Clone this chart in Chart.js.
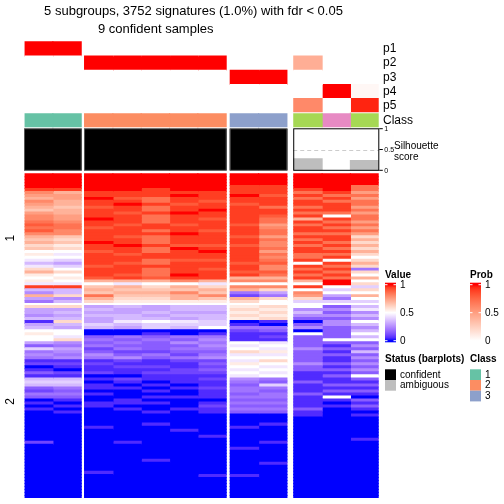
<!DOCTYPE html>
<html><head><meta charset="utf-8">
<script src="https://cdn.jsdelivr.net/npm/chart.js@4.4.1/dist/chart.umd.min.js"></script>
<style>html,body{margin:0;padding:0;background:#fff;}canvas{display:block;background:#fff;}</style>
</head><body>
<canvas id="c" width="504" height="504"></canvas>
<script>
// ---------------- DATA ----------------
const titleLine1 = "5 subgroups, 3752 signatures (1.0%) with fdr < 0.05";
const titleLine2 = "9 confident samples";
const annotationLabels = ["p1", "p2", "p3", "p4", "p5", "Class"];
const rowClusterLabels = ["1", "2"];
// column (sample) groups: 0,1,2 = confident classes 1,2,3 ; 3 = ambiguous samples
const sampleGroup = [0, 0, 1, 1, 1, 1, 1, 2, 2, 3, 3, 3];
const probP1 = [1, 1, 0, 0, 0, 0, 0, 0, 0, 0, 0, 0];
const probP2 = [0, 0, 1, 1, 1, 1, 1, 0, 0, 0.42, 0, 0];
const probP3 = [0, 0, 0, 0, 0, 0, 0, 1, 1, 0, 0, 0];
const probP4 = [0, 0, 0, 0, 0, 0, 0, 0, 0, 0, 1, 0.04];
const probP5 = [0, 0, 0, 0, 0, 0, 0, 0, 0, 0.6, 0, 0.96];
const sampleClassColor = ["#66C2A5", "#66C2A5", "#FC8D62", "#FC8D62", "#FC8D62", "#FC8D62", "#FC8D62",
  "#8DA0CB", "#8DA0CB", "#A6D854", "#E78AC3", "#A6D854"];
const silhouette = [1, 1, 1, 1, 1, 1, 1, 1, 1, 0.29, 0, 0.25];
const sampleStatus = ["confident", "confident", "confident", "confident", "confident", "confident",
  "confident", "confident", "confident", "ambiguous", "ambiguous", "ambiguous"];
// heatmap values: one string per column, one char per row; char index in VALUE_SCALE / 20 = value (0..1)
const VALUE_SCALE = "0123456789abcdefghijk";
// row cluster 1 (44 rows)
const cluster1Values = [
  "kkkkkj" + "gfegfedfgg" + "hihig" + "edecd" + "aba" + "979" + "ceb" + "ab9" + "j" + "75e64",
  "kkkkkj" + "effeedeeff" + "ghhgg" + "dcdbc" + "a9a" + "868" + "aca" + "ba9" + "j" + "77c57",
  "kkkkkk" + "jjkjjijjjkjjijjjjkjjijjjjijjji" + "e" + "a" + "d" + "edhec",
  "kkkkkk" + "jjijkjjijjjijjjijjkjjijjijjjij" + "e" + "9" + "e" + "dedcb",
  "kkkkkj" + "jjhhjhhjhhhjjhjhhhjhhjjhhjhhhi" + "e" + "a" + "c" + "dedcb",
  "kkkkkk" + "jkjjijjkjjjijjkjjjikjjjijjjjkj" + "g" + "a" + "e" + "dgeeb",
  "kkkkkk" + "jjjijjkjjijjjijjjjijkjjijjijjj" + "e" + "9" + "c" + "edgdb",
  "kkkk" + "jjjkjjijjjjj" + "jijjjijjijjjj" + "jijjij" + "egage42ec",
  "kkkk" + "jjjijjjhjjih" + "hfghhfhgghfhg" + "higgih" + "egagc64ca",
  "kkkkk" + "jhjhjjhjhjejhjjhjhjhjjhhj" + "a" + "jhjhje" + "ajagfc8",
  "kkkkkk" + "jhjhjjjh" + "a" + "jhjhjhjjhjhjhj" + "a" + "jhjhjh" + "kk" + "a8a648",
  "kkkk" + "hhfhfhhfhfhhfhfhf" + "cecececacec" + "4" + "caeac8caea8"
];
// row cluster 2 (64 rows)
const cluster2Values = [
  "c6657167" + "abaa" + "638454" + "120131" + "787" + "3243" + "01010" + "0000000002000000000000000000",
  "c6767c76" + "aa9c" + "546545" + "121021" + "787" + "4343" + "10101" + "0000000000000000000000000000",
  "67676687" + "00" + "34342354" + "1211201" + "01101001100" + "0000100000000000000100000000",
  "76677976" + "00" + "43434235" + "2121102" + "10100011010" + "0000000001000000000000000000",
  "66767a88" + "01" + "34333243" + "1121211" + "01010101001" + "0001000000000001000000000000",
  "77676987" + "00" + "43534324" + "2112211" + "10100100010" + "0000010000000000000000000000",
  "7767788a" + "01" + "45454345" + "2323212" + "11211101211" + "0000000100000000000010000000",
  "bcbcb" + "01" + "42111" + "a9ac9a9ba9a9" + "543443434343" + "0000100000010000000010000000",
  "cbcbc" + "10" + "43121" + "9a9b9aca9a9a" + "438434434343" + "0001000001000000100000000000",
  "a5753035" + "0a33" + "3353333533" + "111311131111311" + "000000000000000000000000000",
  "35353553" + "333a" + "313131131313113131" + "a" + "101000" + "000000000000000000000000000",
  "79575a75" + "7a7a" + "35373535353a3" + "131310313101" + "000000010000000000000000000"
];
const ROWS1 = 44, ROWS2 = 64;
const valueLegendTicks = ["1", "0.5", "0"];
const probLegendTicks = ["1", "0.5", "0"];
const statusLegend = ["confident", "ambiguous"];
const classLegend = ["1", "2", "3"];
const classLegendColors = ["#66C2A5", "#FC8D62", "#8DA0CB"];
const silTicks = [0, 0.5, 1];

// ---------------- COLOURS (LAB interpolation) ----------------
function lin(c) { c /= 255; return c <= 0.04045 ? c / 12.92 : Math.pow((c + 0.055) / 1.055, 2.4); }
function enc(v) { v = v <= 0.0031308 ? 12.92 * v : 1.055 * Math.pow(v, 1 / 2.4) - 0.055; return Math.round(Math.max(0, Math.min(1, v)) * 255); }
function toLab(hex) {
  const r = lin(parseInt(hex.slice(1, 3), 16)), g = lin(parseInt(hex.slice(3, 5), 16)), b = lin(parseInt(hex.slice(5, 7), 16));
  const X = (0.4124564 * r + 0.3575761 * g + 0.1804375 * b) / 0.95047;
  const Y = (0.2126729 * r + 0.7151522 * g + 0.0721750 * b);
  const Z = (0.0193339 * r + 0.1191920 * g + 0.9503041 * b) / 1.08883;
  const f = t => t > 0.008856 ? Math.cbrt(t) : 7.787 * t + 16 / 116;
  return [116 * f(Y) - 16, 500 * (f(X) - f(Y)), 200 * (f(Y) - f(Z))];
}
function fromLab(L, a, b) {
  const fy = (L + 16) / 116, fx = fy + a / 500, fz = fy - b / 200;
  const fi = t => { const t3 = t * t * t; return t3 > 0.008856 ? t3 : (t - 16 / 116) / 7.787; };
  const X = fi(fx) * 0.95047, Y = fi(fy), Z = fi(fz) * 1.08883;
  const r = 3.2404542 * X - 1.5371385 * Y - 0.4985314 * Z;
  const g = -0.9692660 * X + 1.8760108 * Y + 0.0415560 * Z;
  const bb = 0.0556434 * X - 0.2040259 * Y + 1.0572252 * Z;
  return "rgb(" + enc(r) + "," + enc(g) + "," + enc(bb) + ")";
}
function makeRamp(breaks, hexes) {
  const labs = hexes.map(toLab);
  return v => {
    v = Math.max(breaks[0], Math.min(breaks[breaks.length - 1], v));
    let i = 0; while (i < breaks.length - 2 && v > breaks[i + 1]) i++;
    const t = (v - breaks[i]) / (breaks[i + 1] - breaks[i]);
    const A = labs[i], B = labs[i + 1];
    return fromLab(A[0] + (B[0] - A[0]) * t, A[1] + (B[1] - A[1]) * t, A[2] + (B[2] - A[2]) * t);
  };
}
const valueColor = makeRamp([0, 0.5, 1], ["#0000FF", "#FFFFFF", "#FF0000"]);
const probColor = makeRamp([0, 1], ["#FFFFFF", "#FF0000"]);

// ---------------- LAYOUT (scale units) ----------------
const GROUP_GAPS = [0.12, 0.145, 0.244];
const BAR_PCT = 1.04;
const colCenter = []; { let x = 0; for (let c = 0; c < sampleGroup.length; c++) { if (c > 0 && sampleGroup[c] !== sampleGroup[c - 1]) x += GROUP_GAPS[sampleGroup[c - 1]]; colCenter.push(x + 0.5); x += 1; } }
const XMAX = colCenter[colCenter.length - 1] + 0.5;
const groupRanges = [0, 1, 2, 3].map(g => { const cs = colCenter.filter((_, i) => sampleGroup[i] === g); return [cs[0] - 0.5, cs[cs.length - 1] + 0.5]; });
const YMAX = 457;
const P_TOP = 0.3, P_H = 14.2;
const CLASS_TOP = 72.3, CLASS_BOT = 86.3;
const SIL_BOX_TOP = 87.3, SIL_BOX_BOT = 129.8, SIL_BASE = 129.3, SIL_H = 41.6;
const C1_TOP = 132.3, C1_BOT = 262.0, C2_TOP = 264.0, C2_BOT = 457;

const probs = [probP1, probP2, probP3, probP4, probP5];
function decode(str, n) { return str.padEnd(n, str[str.length - 1]).slice(0, n).split("").map(ch => Math.max(0, VALUE_SCALE.indexOf(ch)) / 20); }

const datasets = colCenter.map((cx, c) => {
  const data = [], colors = [];
  probs.forEach((p, k) => { data.push({ x: cx, y: [P_TOP + k * P_H, P_TOP + (k + 1) * P_H + (k < 4 ? 1 : 0)] }); colors.push(probColor(p[c])); });
  data.push({ x: cx, y: [CLASS_TOP, CLASS_BOT] }); colors.push(sampleClassColor[c]);
  if (silhouette[c] > 0) { data.push({ x: cx, y: [SIL_BASE - silhouette[c] * SIL_H, SIL_BASE] }); colors.push(sampleStatus[c] === "confident" ? "#000000" : "#BEBEBE"); }
  const v1 = decode(cluster1Values[c], ROWS1), h1 = (C1_BOT - C1_TOP) / ROWS1;
  v1.forEach((v, r) => { data.push({ x: cx, y: [C1_TOP + r * h1, C1_TOP + (r + 1) * h1 + (r < ROWS1 - 1 ? 1 : 0)] }); colors.push(valueColor(v)); });
  const v2 = decode(cluster2Values[c], ROWS2), h2 = (C2_BOT - C2_TOP) / ROWS2;
  v2.forEach((v, r) => { data.push({ x: cx, y: [C2_TOP + r * h2, C2_TOP + (r + 1) * h2 + (r < ROWS2 - 1 ? 1 : 0)] }); colors.push(valueColor(v)); });
  return { label: "sample " + (c + 1), data, backgroundColor: colors, borderWidth: 0, grouped: false, barPercentage: BAR_PCT, categoryPercentage: 1 };
});

const FONT = '"Liberation Sans", Arial, Helvetica, sans-serif';

const decor = {
  id: "decor",
  afterDatasetsDraw(chart) {
    const ctx = chart.ctx, xs = chart.scales.x, ys = chart.scales.y;
    const ppu = xs.getPixelForValue(1) - xs.getPixelForValue(0);
    const ext = (BAR_PCT - 1) / 2 * ppu;
    ctx.save();
    const by0 = ys.getPixelForValue(SIL_BOX_TOP), by1 = ys.getPixelForValue(SIL_BOX_BOT);
    groupRanges.forEach((gr, g) => {
      const x0 = xs.getPixelForValue(gr[0]) - ext, x1 = xs.getPixelForValue(gr[1]) + ext;
      if (g === 3) {
        const yh = ys.getPixelForValue(SIL_BASE - 0.5 * SIL_H);
        ctx.strokeStyle = "#CCCCCC"; ctx.lineWidth = 1; ctx.setLineDash([4, 3]);
        ctx.beginPath(); ctx.moveTo(x0, Math.round(yh) + 0.5); ctx.lineTo(x1, Math.round(yh) + 0.5); ctx.stroke();
        ctx.setLineDash([]);
        ctx.strokeStyle = "#000"; ctx.fillStyle = "#000"; ctx.font = "7px " + FONT; ctx.textBaseline = "middle"; ctx.textAlign = "left";
        silTicks.forEach(t => {
          const ty = ys.getPixelForValue(SIL_BASE - t * SIL_H);
          ctx.beginPath(); ctx.moveTo(x1, ty); ctx.lineTo(x1 + 3.5, ty); ctx.stroke();
          ctx.fillText(String(t), x1 + 5, ty + 0.5);
        });
      }
      ctx.strokeStyle = g === 3 ? "#000" : "#555"; ctx.lineWidth = 1;
      ctx.strokeRect(x0 + 0.5, by0 + 0.5, x1 - x0 - 1, by1 - by0 - 1);
    });
    ctx.restore();
  },
  afterDraw(chart) {
    const ctx = chart.ctx, xs = chart.scales.x, ys = chart.scales.y;
    ctx.save();
    ctx.fillStyle = "#000";
    ctx.textBaseline = "middle"; ctx.textAlign = "center";
    ctx.font = "13px " + FONT;
    ctx.fillText(titleLine1, 193.5, 11);
    const g2r = xs.getPixelForValue(groupRanges[2][1]);
    ctx.fillText(titleLine2, (xs.left + g2r) / 2, 29);
    // annotation labels
    const lx = 383;
    ctx.textAlign = "left"; ctx.font = "12px " + FONT;
    annotationLabels.forEach((lab, k) => {
      const yc = k < 5 ? ys.getPixelForValue(P_TOP + (k + 0.5) * P_H) : ys.getPixelForValue((CLASS_TOP + CLASS_BOT) / 2);
      ctx.fillText(lab, lx, yc + 0.5);
    });
    ctx.font = "10px " + FONT;
    ctx.fillText("Silhouette", 394, 146);
    ctx.fillText("score", 394, 157);
    // row cluster labels
    ctx.font = "12px " + FONT; ctx.textAlign = "center";
    [[C1_TOP, C1_BOT], [C2_TOP, C2_BOT]].forEach((r, i) => {
      const yc = ys.getPixelForValue((r[0] + r[1]) / 2);
      ctx.save(); ctx.translate(11, yc); ctx.rotate(-Math.PI / 2); ctx.fillText(rowClusterLabels[i], 0, 0); ctx.restore();
    });
    // legends
    function gradLegend(x, title, fn, ticks) {
      const top = 282.7, bot = 342.3, v1 = 284.7, v0 = 340.7;
      ctx.font = "bold 10px " + FONT; ctx.textAlign = "left"; ctx.fillStyle = "#000";
      ctx.fillText(title, x, 275);
      const grad = ctx.createLinearGradient(0, v1, 0, v0);
      for (let i = 0; i <= 20; i++) grad.addColorStop(i / 20, fn(1 - i / 20));
      ctx.fillStyle = grad; ctx.fillRect(x, top, 11, bot - top);
      ctx.strokeStyle = "#fff"; ctx.lineWidth = 1;
      ctx.font = "10px " + FONT;
      ticks.forEach((t, i) => {
        const ty = v1 + (v0 - v1) * i / 2;
        ctx.beginPath(); ctx.moveTo(x, ty); ctx.lineTo(x + 2.5, ty); ctx.moveTo(x + 8.5, ty); ctx.lineTo(x + 11, ty); ctx.stroke();
        ctx.fillStyle = "#000"; ctx.fillText(t, x + 15, ty + 0.5);
      });
    }
    gradLegend(385, "Value", valueColor, valueLegendTicks);
    gradLegend(470, "Prob", probColor, probLegendTicks);
    ctx.font = "bold 10px " + FONT; ctx.fillStyle = "#000"; ctx.textAlign = "left";
    ctx.fillText("Status (barplots)", 385, 359);
    ctx.fillText("Class", 470, 359);
    ctx.font = "10px " + FONT;
    const stColors = ["#000000", "#BEBEBE"];
    statusLegend.forEach((s, i) => {
      const y0 = 369.3 + i * 10.7;
      ctx.fillStyle = stColors[i]; ctx.fillRect(385, y0, 11, 10.7);
      ctx.fillStyle = "#000"; ctx.fillText(s, 400, y0 + 5.5);
    });
    classLegend.forEach((s, i) => {
      const y0 = 369.3 + i * 10.7;
      ctx.fillStyle = classLegendColors[i]; ctx.fillRect(470, y0, 11, 10.7);
      ctx.fillStyle = "#000"; ctx.fillText(s, 485, y0 + 5.5);
    });
    ctx.restore();
  }
};

new Chart(document.getElementById("c"), {
  type: "bar",
  data: { datasets },
  options: {
    responsive: false, animation: false, devicePixelRatio: 1, events: [],
    layout: { padding: { left: 24.57, right: 504 - 378.73, top: 41, bottom: 6 } },
    scales: {
      x: { type: "linear", offset: false, min: 0, max: XMAX, display: false, ticks: { stepSize: 5 } },
      y: { type: "linear", offset: false, min: 0, max: YMAX, reverse: true, display: false, ticks: { stepSize: 100 } }
    },
    plugins: { legend: { display: false }, tooltip: { enabled: false }, title: { display: false } }
  },
  plugins: [decor]
});
</script>
</body></html>
